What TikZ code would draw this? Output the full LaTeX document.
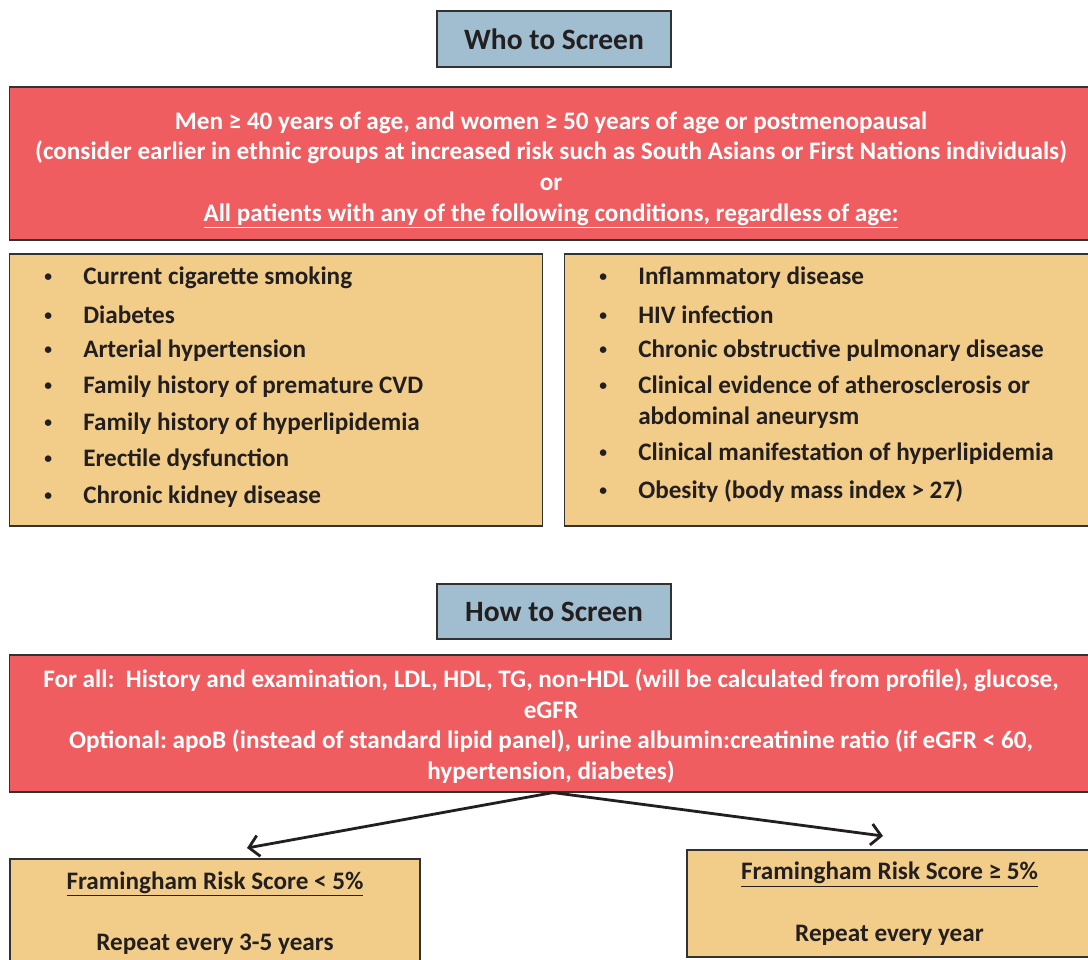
\documentclass[tikz,border=0pt]{standalone}
\usepackage{fontspec}
\setmainfont{Carlito}
\usetikzlibrary{positioning,arrows.meta}
\definecolor{hdrblue}{RGB}{160,190,208}
\definecolor{boxred}{RGB}{239,93,97}
\definecolor{boxtan}{RGB}{242,205,138}
\definecolor{edgegray}{RGB}{50,50,50}
\definecolor{inkdark}{RGB}{35,31,32}
\newcommand{\dotmark}{\raisebox{0.12em}{\fontsize{11}{11}\selectfont\textbullet}}
\frenchspacing
\begin{document}
\begin{tikzpicture}[x=0.025cm,y=-0.025cm,
  hdr/.style={draw=edgegray, line width=0.8pt, fill=hdrblue, minimum width=5.85cm, minimum height=1.4cm, text=inkdark, font=\fontsize{21}{25}\selectfont\bfseries},
  redbox/.style={draw=edgegray, line width=0.8pt, fill=boxred, minimum width=27.05cm, text=white, align=center, font=\fontsize{17.9}{21.8}\selectfont\bfseries},
  tanbox/.style={draw=edgegray, line width=0.8pt, fill=boxtan, text=inkdark, align=center, font=\fontsize{17.9}{21.8}\selectfont\bfseries},
  bulletitem/.style={anchor=west, inner sep=0pt, align=left, text=inkdark, font=\fontsize{17.9}{22}\selectfont\bfseries},
  arr/.style={line width=2pt, draw=inkdark, -{Straight Barb[length=7pt,width=15pt,line width=2pt]}}]
\useasboundingbox (0,0) rectangle (1088,960);
% who to screen
\node [hdr] (who) at (554,39) {Who to Screen};
\node [redbox, minimum height=3.825cm] (whored) at (551,163.5) {};
\node [text=white, align=center, font=\fontsize{17.9}{21.8}\selectfont\bfseries] (whotxt) at (551,170)
  {Men ≥ 40 years of age, and women ≥ 50 years of age or postmenopausal\\
   (consider earlier in ethnic groups at increased risk such as South Asians or First Nations individuals)\\
   or\\
   \underline{All patients with any of the following conditions, regardless of age:}};
\node [tanbox, minimum width=13.3cm, minimum height=6.8cm] (condl) at (276,390) {};
\node [tanbox, minimum width=13.175cm, minimum height=6.8cm] (condr) at (828.5,390) {};
\foreach \yy/\txt [count=\i] in {278/Current cigarette smoking, 315/Diabetes, 351/Arterial hypertension,
    387/Family history of premature CVD, 424/Family history of hyperlipidemia,
    460/Erectile dysfunction, 497/Chronic kidney disease}
  \node [bulletitem] (l\i) at (44,\yy) {\makebox[0.975cm][l]{\dotmark}\txt};
\foreach \yy/\txt [count=\i] in {278/Inflammatory disease, 315/HIV infection,
    351/Chronic obstructive pulmonary disease,
    402.5/{Clinical evidence of atherosclerosis or\\\hspace*{0.975cm}abdominal aneurysm},
    454/Clinical manifestation of hyperlipidemia, 491/Obesity (body mass index > 27)}
  \node [bulletitem] (r\i) at (599,\yy) {\makebox[0.975cm][l]{\dotmark}\txt};
% how to screen
\node [hdr, minimum height=1.375cm] (how) at (554,611.5) {How to Screen};
\node [redbox, minimum height=3.425cm] (howred) at (551,723.5) {};
\node [text=white, align=center, font=\fontsize{17.9}{21.8}\selectfont\bfseries] (howtxt) at (551,726)
  {For all:\ \ History and examination, LDL, HDL, TG, non-HDL (will be calculated from profile), glucose,\\
   eGFR\\
   Optional: apoB (instead of standard lipid panel), urine albumin:creatinine ratio (if eGFR < 60,\\
   hypertension, diabetes)};
\node [tanbox, minimum width=10.25cm, minimum height=2.7cm] (low) at (215,913)
  {\underline{Framingham Risk Score < 5\%}\\[21.8pt] Repeat every 3-5 years};
\node [tanbox, minimum width=10.125cm, minimum height=2.675cm] (high) at (889.5,903.5)
  {\underline{Framingham Risk Score ≥ 5\%}\\[21.8pt] Repeat every year};
\coordinate (lowtip) at (247,848);
\coordinate (hightip) at (883,836);
\draw [arr] (howred.south) ++(2,0) coordinate (split) -- (lowtip);
\draw [arr] (split) -- (hightip);
\end{tikzpicture}
\end{document}
